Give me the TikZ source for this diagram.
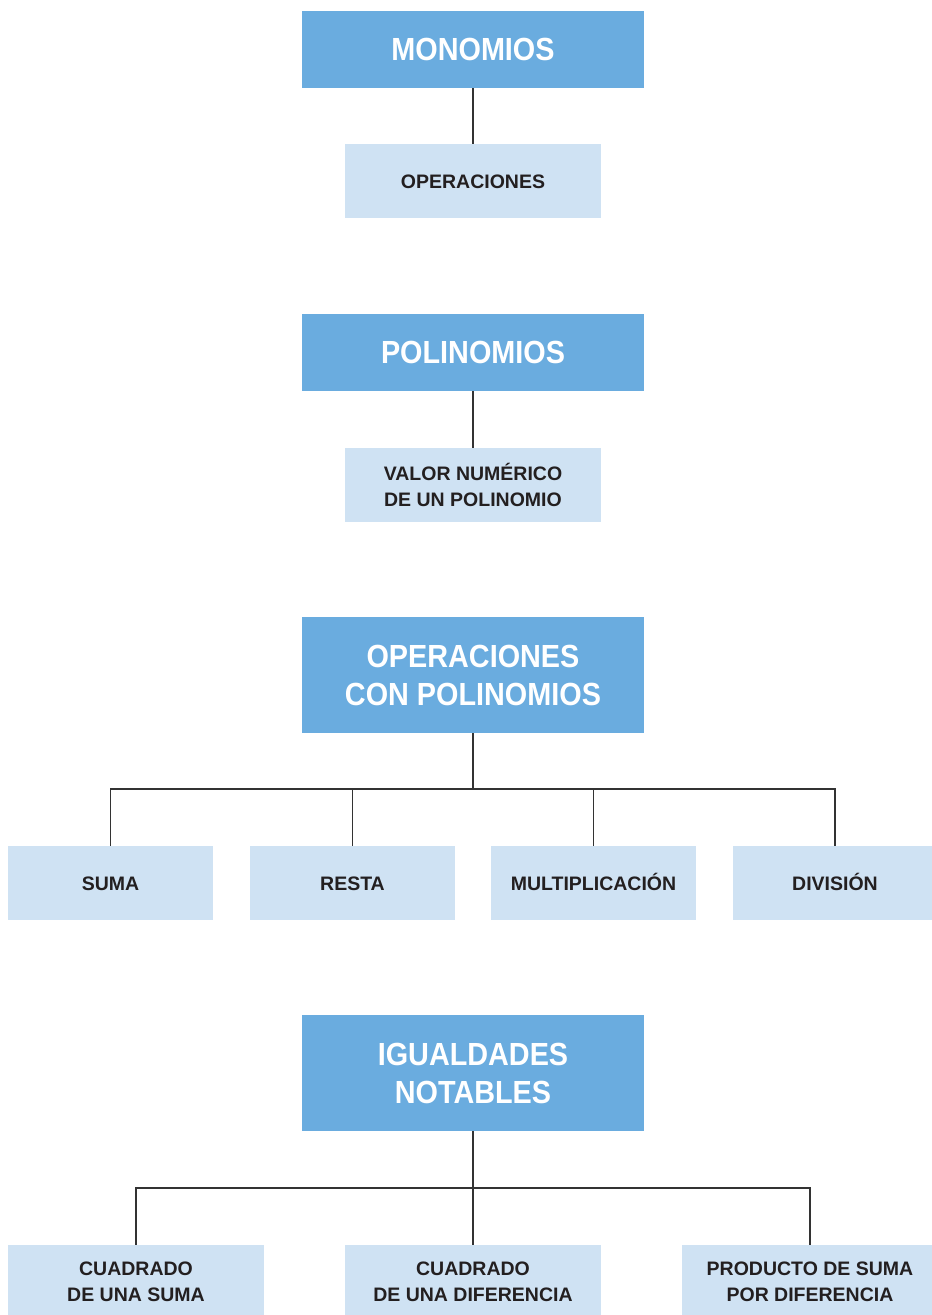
\documentclass[tikz,border=0pt]{standalone}
\usepackage{fontspec}
\setmainfont{Liberation Sans}
\newfontfamily\titlefont[FakeStretch=0.9]{Liberation Sans}
\definecolor{darkblue}{HTML}{6AACDF}
\definecolor{lightblue}{HTML}{CFE2F3}
\definecolor{txt}{HTML}{231F20}
\definecolor{linec}{HTML}{333333}
\tikzset{
  titlebox/.style={fill=darkblue, text=white, minimum width=342pt, inner sep=0pt, align=center,
    font=\titlefont\bfseries\fontsize{32}{38}\selectfont},
  subbox/.style={fill=lightblue, text=txt, minimum height=74pt, inner sep=0pt, align=center,
    font=\bfseries\fontsize{19.5}{26}\selectfont},
  oneline/.style={text height=14pt, text depth=0pt},
  conn/.style={draw=linec, line width=1.5pt}
}
\begin{document}
\begin{tikzpicture}[x=1pt,y=-1pt]
\path[use as bounding box, clip] (0,0) rectangle (932,1315);
\fill[white] (0,0) rectangle (932,1315);
% Monomios
\node[titlebox, minimum height=77pt] (mono) at (473,49.5) {MONOMIOS};
\node[subbox, oneline, minimum width=256pt] (ops) at (473,181) {OPERACIONES};
\draw[conn] (mono.south) -- (ops.north);
% Polinomios
\node[titlebox, minimum height=77pt] (poli) at (473,352.5) {POLINOMIOS};
\node[subbox, minimum width=256pt] (valor) at (473,485) {VALOR NUMÉRICO\\DE UN POLINOMIO};
\draw[conn] (poli.south) -- (valor.north);
% Operaciones con polinomios
\node[titlebox, minimum height=116pt] (opcon) at (473,675) {OPERACIONES\\CON POLINOMIOS};
\node[subbox, oneline, minimum width=205pt] (suma) at (110.5,883) {SUMA};
\node[subbox, oneline, minimum width=205pt] (resta) at (352.5,883) {RESTA};
\node[subbox, oneline, minimum width=205pt] (mult) at (593.5,883) {MULTIPLICACIÓN};
\node[subbox, oneline, minimum width=205pt] (div) at (835,883) {DIVISIÓN};
\coordinate (j1) at (473,789);
\draw[conn] (opcon.south) -- (j1);
\draw[conn] (suma.north) |- (j1);
\draw[conn] (resta.north) |- (j1);
\draw[conn] (mult.north) |- (j1);
\draw[conn] (div.north) |- (j1);
% Igualdades notables
\node[titlebox, minimum height=116pt] (igual) at (473,1073) {IGUALDADES\\NOTABLES};
\node[subbox, minimum width=256pt] (cs) at (136,1282) {CUADRADO\\DE UNA SUMA};
\node[subbox, minimum width=256pt] (cd) at (473,1282) {CUADRADO\\DE UNA DIFERENCIA};
\node[subbox, minimum width=256pt] (pd) at (810,1282) {PRODUCTO DE SUMA\\POR DIFERENCIA};
\coordinate (j2) at (473,1188);
\draw[conn] (igual.south) -- (cd.north);
\draw[conn] (cs.north) |- (j2);
\draw[conn] (pd.north) |- (j2);
\end{tikzpicture}
\end{document}
